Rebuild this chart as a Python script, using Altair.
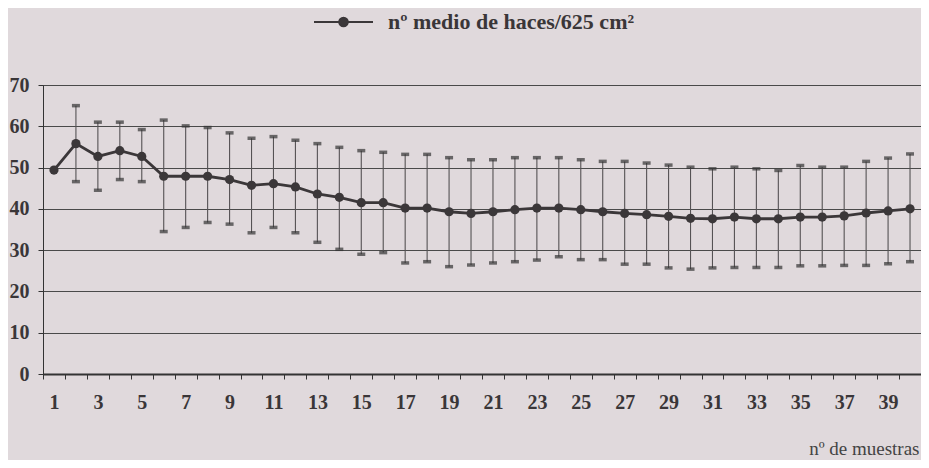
import altair as alt
import pandas as pd

muestras = list(range(1, 41))
media = [49.4, 55.8, 52.7, 54.1, 52.7, 47.9, 47.9, 47.9, 47.1, 45.7,
         46.1, 45.3, 43.6, 42.8, 41.5, 41.5, 40.2, 40.2, 39.3, 38.9,
         39.3, 39.8, 40.2, 40.2, 39.8, 39.3, 38.9, 38.6, 38.2, 37.7,
         37.6, 38.0, 37.6, 37.6, 38.0, 38.0, 38.3, 39.0, 39.5, 40.0]
superior = [None, 65.0, 61.0, 61.0, 59.2, 61.5, 60.1, 59.7, 58.4, 57.1,
            57.5, 56.6, 55.8, 54.9, 54.1, 53.7, 53.2, 53.2, 52.4, 51.9,
            51.9, 52.4, 52.4, 52.4, 51.9, 51.5, 51.5, 51.1, 50.6, 50.1,
            49.7, 50.1, 49.7, 49.3, 50.5, 50.1, 50.1, 51.5, 52.3, 53.3]
inferior = [None, 46.6, 44.5, 47.1, 46.6, 34.5, 35.5, 36.7, 36.3, 34.2,
            35.5, 34.2, 31.9, 30.2, 29.0, 29.4, 26.9, 27.2, 26.0, 26.4,
            26.9, 27.2, 27.6, 28.4, 27.7, 27.7, 26.6, 26.6, 25.7, 25.4,
            25.7, 25.8, 25.8, 25.8, 26.2, 26.2, 26.3, 26.3, 26.7, 27.2]
serie = "nº medio de haces/625 cm²"

df = pd.DataFrame({"muestra": muestras, "media": media,
                   "sup": superior, "inf": inferior})
df["serie"] = serie

FONT = "Liberation Serif"
DARK = "#3b3739"
TXT = "#3a3638"
BG = "#e0d9dc"

x = alt.X("muestra:O", title="nº de muestras",
          scale=alt.Scale(paddingInner=0, paddingOuter=0),
          axis=alt.Axis(labelExpr="datum.value % 2 == 1 ? datum.label : ''",
                        labelAngle=0, tickBand="extent", tickSize=5,
                        labelPadding=13, titleAnchor="end", titleAlign="right",
                        titleBaseline="alphabetic", titleY=80, titleX=876,
                        titleFontWeight="normal", titleFontSize=19,
                        titleColor="#444", domainWidth=2))
y = alt.Y("media:Q", title=None,
          scale=alt.Scale(domain=[0, 70]),
          axis=alt.Axis(values=list(range(0, 71, 10)), tickSize=5, labelPadding=9,
                        grid=True))

base = alt.Chart(df)

bars = base.transform_filter("datum.sup != null").mark_rule(
    color="#555254", strokeWidth=1.1).encode(x=x, y=alt.Y("inf:Q"), y2="sup:Q")
caps_up = base.transform_filter("datum.sup != null").mark_tick(
    color="#333", size=8, thickness=3.5).encode(x=x, y=alt.Y("sup:Q"))
caps_lo = base.transform_filter("datum.inf != null").mark_tick(
    color="#333", size=8, thickness=3.5).encode(x=x, y=alt.Y("inf:Q"))

line = base.mark_line(strokeWidth=2.8).encode(
    x=x, y=y,
    color=alt.Color("serie:N", scale=alt.Scale(range=[DARK]),
                    legend=alt.Legend(
                        title=None, orient="none", legendX=270, legendY=-93.5,
                        symbolType="M-1,0L1,0M0.15,0A0.15,0.15,0,1,1,-0.15,0A0.15,0.15,0,1,1,0.15,0Z",
                        symbolSize=3481, symbolStrokeWidth=1.8,
                        symbolFillColor=DARK, symbolStrokeColor=DARK,
                        labelFont=FONT, labelFontWeight="bold", labelFontSize=22,
                        labelColor=TXT, labelOffset=14, labelLimit=0)))
points = base.mark_circle(size=85, opacity=1, color=DARK).encode(x=x, y=y)

chart = alt.layer(bars, caps_up, caps_lo, line, points).properties(
    width=878, height=289,
    autosize=alt.AutoSizeParams(type="none"),
    padding={"left": 35, "top": 77, "right": 0, "bottom": 86},
    background=BG,
).configure_view(stroke="#555", strokeWidth=1).configure_axis(
    labelFont=FONT, labelFontWeight="bold", labelFontSize=20, labelColor=TXT,
    titleFont=FONT, domainColor="#333", tickColor="#333", gridColor="#4a4a4a",
    gridWidth=1.1,
)

chart.save("out.html", embed_options={"renderer": "svg", "actions": False})
